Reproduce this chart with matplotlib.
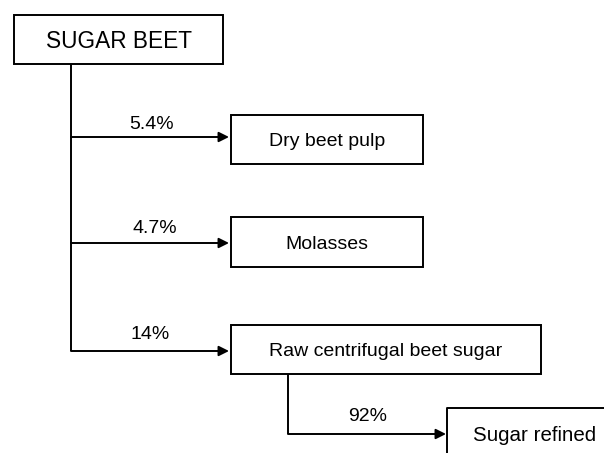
import matplotlib
matplotlib.use("Agg")
import matplotlib.pyplot as plt
from matplotlib.patches import Rectangle

plt.rcParams['font.family'] = ['Liberation Sans', 'DejaVu Sans']

source = "SUGAR BEET"
products = ["Dry beet pulp", "Molasses", "Raw centrifugal beet sugar"]
shares = ["5.4%", "4.7%", "14%"]
sub_product = "Sugar refined"
sub_share = "92%"

fig = plt.figure(figsize=(6.04, 4.53), dpi=100)
ax = fig.add_axes([0, 0, 1, 1])
ax.set_xlim(0, 604)
ax.set_ylim(453, 0)
ax.axis('off')

lw = 1.4
PX = 100 / 72.0
CAP = 0.716

def centered_text(x, yc, text, fs):
    ax.text(x, yc + fs * PX * CAP / 2, text, ha='center', va='baseline',
            fontsize=fs, color='black')

def box(x0, y0, x1, y1, text, fs):
    ax.add_patch(Rectangle((x0, y0), x1 - x0, y1 - y0, fill=False,
                           edgecolor='black', linewidth=lw, clip_on=False))
    centered_text((x0 + x1) / 2, (y0 + y1) / 2, text, fs)

def arrow(x0, x1, y):
    ax.annotate('', xy=(x1, y), xytext=(x0, y),
                arrowprops=dict(arrowstyle='-|>', color='black', lw=lw,
                                mutation_scale=15, shrinkA=0, shrinkB=0))

# source box
box(14, 15, 223, 64, source, 16.3)

# trunk line
trunk_x = 71
arrow_ys = [137, 243, 351]
ax.plot([trunk_x, trunk_x], [64, arrow_ys[-1]], color='black', lw=lw,
        solid_capstyle='butt')

box_tops = [115, 217, 325]
box_bots = [164, 267, 374]
box_rights = [423, 423, 541]
label_xs = [152, 155, 150]
label_bases = [129, 233, 339]
for name, share, y, t, b, r, lx, lb in zip(products, shares, arrow_ys, box_tops,
                                           box_bots, box_rights, label_xs,
                                           label_bases):
    arrow(trunk_x, 229, y)
    box(231, t, r, b, name, 14)
    ax.text(lx, lb, share, ha='center', va='baseline', fontsize=14)

# sub branch
sub_x = 288
sub_y = 434
ax.plot([sub_x, sub_x], [374, sub_y], color='black', lw=lw,
        solid_capstyle='butt')
arrow(sub_x, 446, sub_y)
ax.text(367.5, 421, sub_share, ha='center', va='baseline', fontsize=14)
ax.plot([447, 447, 606], [460, 408, 408], color='black', lw=lw,
        clip_on=False)
centered_text(535, 434, sub_product, 14.8)

fig.savefig('out.png', dpi=100)
